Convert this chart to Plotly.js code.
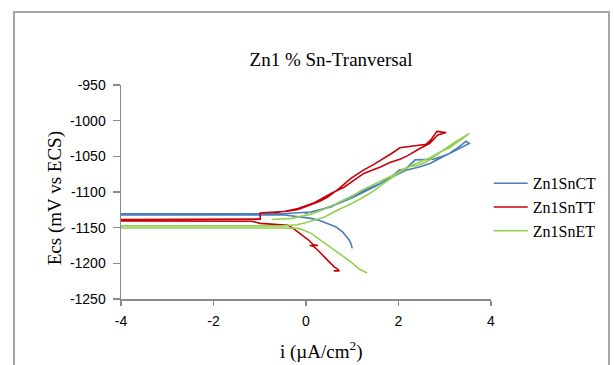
<!DOCTYPE html>
<html>
<head>
<meta charset="utf-8">
<script src="https://cdn.plot.ly/plotly-3.0.1.min.js"></script>
<style>
  html, body { margin: 0; padding: 0; background: #ffffff; }
  #wrap { position: relative; width: 614px; height: 365px; overflow: hidden; }
  #chart { position: absolute; left: 0; top: 0; width: 614px; height: 365px; }
  #frame { position: absolute; left: 13px; top: 11px; width: 597px; height: 420px;
           border: 2px solid #a6a6a6; box-sizing: border-box; pointer-events: none; }
</style>
</head>
<body>
<div id="wrap">
  <div id="chart"></div>
  <div id="frame"></div>
</div>
<script>
// Series names
const seriesNames = ["Zn1SnCT", "Zn1SnTT", "Zn1SnET"];
const seriesColors = ["#4A7EBB", "#C8000A", "#92D050"];

// Zn1SnCT (log i, E)
const ctX = [1.0, 0.97, 0.93, 0.86, 0.79, 0.65, 0.47, 0.3, 0.11, -0.1, -0.31, -0.5, -4, -4, -0.5, -0.2, 0.11, 0.3, 0.54, 0.8, 1.11, 1.35, 1.61, 1.85, 2.03, 2.15, 2.36, 2.55, 2.75, 2.95, 3.1, 3.3, 3.46, 3.53, 3.4, 3.2, 2.95, 2.68, 2.45, 2.18, 1.95, 1.75, 1.5, 1.25, 1.0, 0.7, 0.4, 0.1, -0.03];
const ctY = [-1179, -1172, -1167, -1161, -1156, -1149, -1144, -1140, -1137, -1135, -1134, -1132, -1132, -1130.5, -1130.5, -1129.5, -1128, -1125, -1121, -1112, -1102, -1095, -1088, -1078, -1069, -1068, -1055, -1055, -1054, -1050, -1046, -1037, -1029, -1032, -1036, -1043, -1051, -1060, -1065, -1069, -1076, -1083, -1092, -1100, -1108, -1116, -1123, -1128, -1130];

// Zn1SnTT
const ttX = [0.6, 0.72, 0.66, 0.61, 0.5, 0.4, 0.28, 0.16, 0.08, 0.26, 0.16, 0.05, -0.05, -0.17, -0.3, -0.39, -0.99, -0.99, -1.17, -4, -4, -1.17, -0.99, -0.99, -0.67, -0.4, -0.17, 0.11, 0.3, 0.47, 0.7, 0.97, 1.25, 1.45, 1.68, 1.85, 2.03, 2.3, 2.6, 2.7, 2.83, 2.95, 3.03, 2.85, 2.67, 2.46, 2.2, 2.03, 1.8, 1.61, 1.25, 1.05, 0.83, 0.54, 0.18, -0.17, -0.45, -0.67];
const ttY = [-1210.6, -1210.6, -1207, -1205, -1198, -1191, -1183, -1176, -1175, -1175, -1174, -1167, -1162, -1156, -1150, -1146.6, -1145, -1144, -1141, -1140.5, -1138.5, -1138.5, -1138, -1129.5, -1128, -1127, -1124.5, -1118, -1113, -1107, -1096, -1081, -1069, -1062, -1053, -1046, -1038, -1036, -1033, -1027, -1015, -1016, -1016.5, -1020, -1032, -1039, -1049, -1054, -1059, -1065, -1074, -1083, -1093, -1102, -1115, -1123, -1127, -1129];

// Zn1SnET
const etX = [1.32, 1.15, 0.97, 0.82, 0.68, 0.55, 0.4, 0.25, 0.11, -0.03, -0.17, -0.46, -4, -4, -4, -0.46, -0.2, -0.03, 0.2, 0.4, 0.6, 0.83, 1.05, 1.25, 1.47, 1.68, 1.85, 2.03, 2.25, 2.45, 2.68, 2.9, 3.1, 3.3, 3.53, 3.4, 3.2, 3.0, 2.85, 2.6, 2.4, 2.25, 2.1, 1.96, 1.7, 1.47, 1.2, 0.97, 0.7, 0.4, 0.11, -0.31, -0.74];
const etY = [-1213.5, -1208, -1198, -1191, -1184, -1178, -1172, -1164, -1158, -1154, -1151, -1150.5, -1150.5, -1149, -1147.5, -1147.5, -1146, -1143.5, -1139, -1135, -1128, -1121, -1114, -1107, -1098, -1088, -1080, -1072, -1064, -1058, -1052, -1044, -1038, -1029, -1018, -1023, -1031, -1040, -1048, -1058, -1063, -1064, -1068, -1074, -1082, -1089, -1098, -1107, -1115, -1124, -1131, -1137, -1138.5];

const xTicks = [-4, -2, 0, 2, 4];
const yTicks = [-1250, -1200, -1150, -1100, -1050, -1000, -950];

const xs = [ctX, ttX, etX];
const ys = [ctY, ttY, etY];

const traces = seriesNames.map((n, i) => ({
  type: "scatter",
  mode: "lines",
  name: n,
  x: xs[i],
  y: ys[i],
  line: { color: seriesColors[i], width: 1.6 }
}));

const serif = "Liberation Serif, Times New Roman, serif";
const sans = "Liberation Sans, Arial, sans-serif";
const axisCol = "#8a8a8a";

const layout = {
  width: 614,
  height: 365,
  margin: { l: 121, r: 119, t: 85, b: 66 },
  paper_bgcolor: "#ffffff",
  plot_bgcolor: "#ffffff",
  showlegend: true,
  title: {
    text: "Zn1 % Sn-Tranversal",
    font: { family: serif, size: 19, color: "#000" },
    x: 331 / 614, xref: "container", xanchor: "center",
    y: 1 - 59 / 365, yref: "container", yanchor: "middle"
  },
  xaxis: {
    range: [-4, 4],
    tickvals: xTicks,
    ticktext: xTicks.map(String),
    ticks: "outside", ticklen: 5, tickwidth: 1.5, tickcolor: axisCol,
    showline: true, linecolor: axisCol, linewidth: 1.5,
    showgrid: false, zeroline: false,
    tickfont: { family: sans, size: 14, color: "#000" },
    ticklabelstandoff: 4
  },
  yaxis: {
    range: [-1250, -950],
    tickvals: yTicks,
    ticktext: yTicks.map(String),
    ticks: "outside", ticklen: 7, tickwidth: 1.5, tickcolor: axisCol,
    showline: true, linecolor: axisCol, linewidth: 1.5,
    showgrid: false, zeroline: false,
    tickfont: { family: sans, size: 14, color: "#000" },
    ticklabelstandoff: 4
  },
  legend: {
    x: (493 - 120.7) / 374.6, xanchor: "left",
    y: 0.62, yanchor: "top",
    font: { family: serif, size: 16, color: "#000" },
    itemwidth: 34,
    bgcolor: "rgba(0,0,0,0)",
    borderwidth: 0
  },
  annotations: [
    {
      text: "i (µA/cm<sup>2</sup>)",
      xref: "paper", yref: "paper",
      x: (323.5 - 120.7) / 374.6, y: (298.7 - 350) / 213.7,
      xanchor: "center", yanchor: "middle",
      showarrow: false,
      font: { family: serif, size: 19, color: "#000" }
    },
    {
      text: "Ecs (mV vs ECS)",
      xref: "paper", yref: "paper",
      x: (54 - 120.7) / 374.6, y: (298.7 - 198) / 213.7,
      xanchor: "center", yanchor: "middle",
      textangle: -90,
      showarrow: false,
      font: { family: serif, size: 19, color: "#000" }
    }
  ]
};

Plotly.newPlot("chart", traces, layout, { displayModeBar: false, staticPlot: true });
</script>
</body>
</html>
